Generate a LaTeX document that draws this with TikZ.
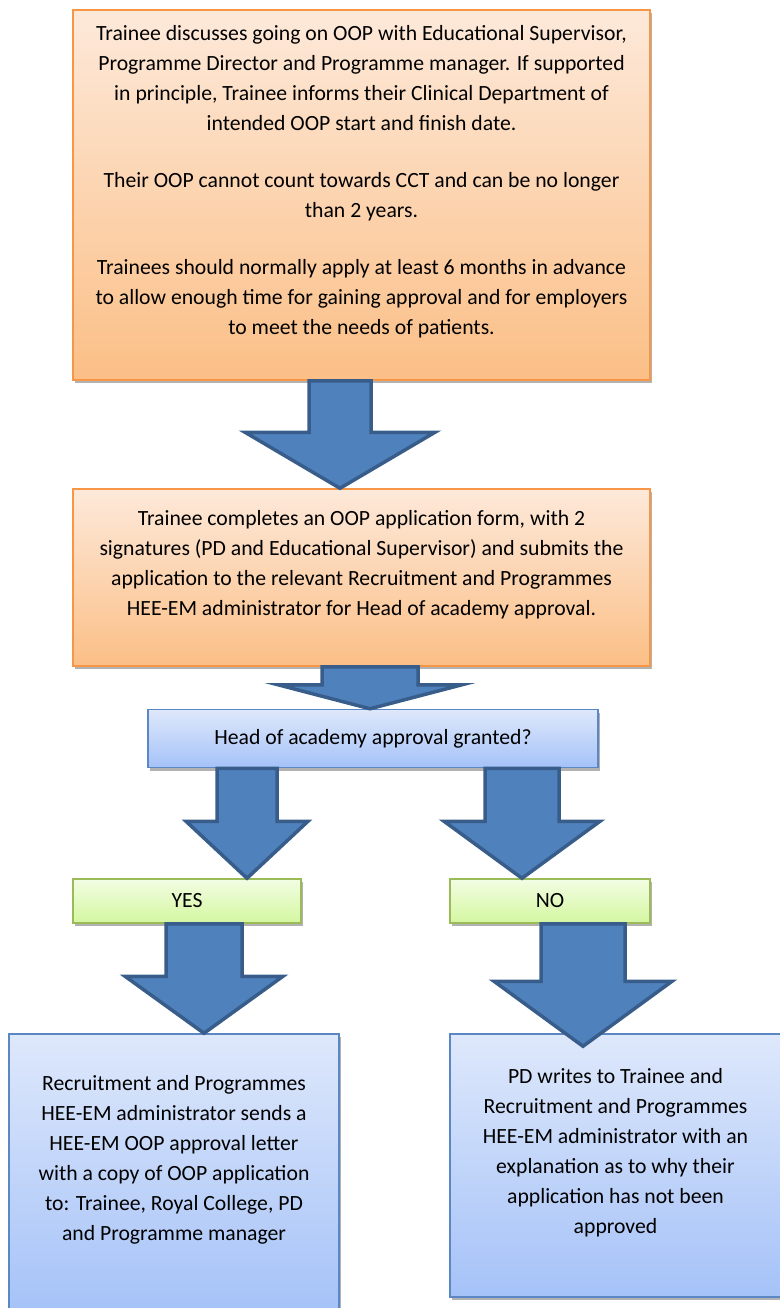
\documentclass[tikz,border=0pt]{standalone}
\usepackage{fontspec}
\setmainfont{Carlito}
\usetikzlibrary{calc,shadows}

\definecolor{orangeline}{HTML}{F79646}
\definecolor{orangetop}{HTML}{FDE9DA}
\definecolor{orangebot}{HTML}{FBBF86}
\definecolor{blueline}{HTML}{5B87C4}
\definecolor{bluetop}{HTML}{DEE8FB}
\definecolor{bluebot}{HTML}{A5C2F8}
\definecolor{greenline}{HTML}{9BBB59}
\definecolor{greentop}{HTML}{F2FDE3}
\definecolor{greenbot}{HTML}{D4F7A0}
\definecolor{arrowfill}{HTML}{4F81BD}
\definecolor{arrowline}{HTML}{385D8A}

\tikzset{
  stepbox/.style={draw, rectangle, line width=1.5pt, align=center,
    drop shadow={shadow xshift=2pt, shadow yshift=-3pt, opacity=0.3, fill=black}},
  orangebox/.style={stepbox, draw=orangeline, top color=orangetop, bottom color=orangebot},
  bluebox/.style={stepbox, draw=blueline, top color=bluetop, bottom color=bluebot},
  greenbox/.style={stepbox, draw=greenline, top color=greentop, bottom color=greenbot},
  bigarr/.style={fill=arrowfill, draw=arrowline, line width=3.5pt, line join=miter}
}

% start, tip, shaft half width, head half width, head length
\newcommand{\bigarrow}[5]{%
  \draw[bigarr] let \p1=#1, \p2=#2 in
    (\x1-#3pt,\y1) -- (\x1+#3pt,\y1) -- (\x1+#3pt,\y2+#5pt) -- (\x1+#4pt,\y2+#5pt)
    -- (\x1,\y2) -- (\x1-#4pt,\y2+#5pt) -- (\x1-#3pt,\y2+#5pt) -- cycle;}

\begin{document}
\begin{tikzpicture}[x=1pt, y=-1pt, font=\fontsize{21.7}{30}\selectfont]
  \useasboundingbox (0,0) rectangle (779,1308);

  \node[orangebox, minimum width=577pt, minimum height=370pt] (discuss) at (361.5,195)
    {Trainee discusses going on OOP with Educational Supervisor,\\
     Programme Director and Programme manager. If supported\\
     in principle, Trainee informs their Clinical Department of\\
     intended OOP start and finish date.\\[27pt]
     Their OOP cannot count towards CCT and can be no longer\\
     than 2 years.\\[27pt]
     Trainees should normally apply at least 6 months in advance\\
     to allow enough time for gaining approval and for employers\\
     to meet the needs of patients.\\ \mbox{}};
  \node[orangebox, minimum width=577pt, minimum height=177pt] (apply) at (361.5,577.5)
    {Trainee completes an OOP application form, with 2\\
     signatures (PD and Educational Supervisor) and submits the\\
     application to the relevant Recruitment and Programmes\\
     HEE-EM administrator for Head of academy approval.\\ \mbox{}};
  \node[bluebox, minimum width=450pt, minimum height=58pt] (granted) at (373,738.5)
    {Head of academy approval granted?};
  \node[greenbox, minimum width=228pt, minimum height=44pt] (yes) at (187,901) {YES};
  \node[greenbox, minimum width=200pt, minimum height=44pt] (no) at (550,901) {NO};
  \node[bluebox, minimum width=330pt, minimum height=278pt] (letter) at (174,1173)
    {Recruitment and Programmes\\
     HEE-EM administrator sends a\\
     HEE-EM OOP approval letter\\
     with a copy of OOP application\\
     to: Trainee, Royal College, PD\\
     and Programme manager\\ \mbox{}};
  \node[bluebox, minimum width=331pt, minimum height=263pt] (refuse) at (615.5,1165.5)
    {PD writes to Trainee and\\
     Recruitment and Programmes\\
     HEE-EM administrator with an\\
     explanation as to why their\\
     application has not been\\
     approved\\ \mbox{}};

  \bigarrow{($(discuss.south)+(-21.5,0)$)}{(apply.north)}{31}{95}{56}
  \bigarrow{($(apply.south)+(8.5,0)$)}{(granted.north)}{48}{92}{24}
  \bigarrow{($(granted.south)+(-126,0)$)}{(yes.north)}{30}{61}{57}
  \bigarrow{($(granted.south)+(149,0)$)}{(no.north)}{37}{78}{57}
  \bigarrow{($(yes.south)+(17,0)$)}{(letter.north)}{38}{79}{57}
  \bigarrow{($(no.south)+(33,0)$)}{($(refuse.north)+(0,13)$)}{42}{89}{65}
\end{tikzpicture}
\end{document}
